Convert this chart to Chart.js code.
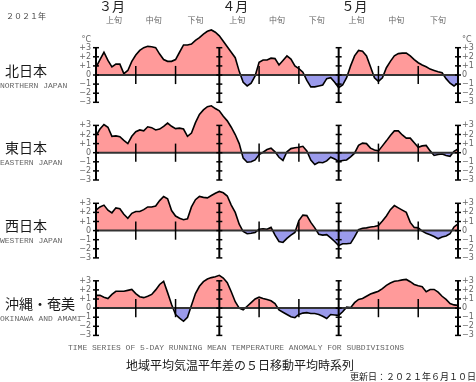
<!DOCTYPE html>
<html><head><meta charset="utf-8">
<script src="https://cdn.jsdelivr.net/npm/chart.js@4"></script>
<style>
html,body{margin:0;padding:0;background:#fff;width:476px;height:382px;overflow:hidden;}
#wrap{position:relative;width:476px;height:382px;}
canvas{position:absolute;left:0;}
.t{position:absolute;white-space:nowrap;}
.jp{font-family:"Noto Sans CJK JP",sans-serif;color:#1a1a1a;}
.en{font-family:"Liberation Mono",monospace;font-size:8px;line-height:8px;color:#666;}
</style></head><body><div id="wrap"></div>
<script>
// ---- data ----
const months = ['３月', '４月', '５月'];
const monthStart = [0, 31, 61];
const monthDays = [31, 30, 31];
const dekadLabels = ['上旬', '中旬', '下旬'];
const yTicks = [-3, -2, -1, 0, 1, 2, 3];
const yTickLabels = ['−3', '−2', '−1', '0', '+1', '+2', '+3'];
const unitLabel = '°C';
const yearLabel = '２０２１年';
const regionsJa = ['北日本', '東日本', '西日本', '沖縄・奄美'];
const regionsEn = ['NORTHERN JAPAN', 'EASTERN JAPAN', 'WESTERN JAPAN', 'OKINAWA AND AMAMI'];
const titleEn = 'TIME SERIES OF 5-DAY RUNNING MEAN TEMPERATURE ANOMALY FOR SUBDIVISIONS';
const titleJa = '地域平均気温平年差の５日移動平均時系列';
const updated = '更新日：２０２１年６月１０日';

// daily anomalies, Mar 1 .. May 31 (92 days)
const north = [0.85,1.7,2.5,1.6,0.9,1.2,1.2,0.15,0.5,1.5,2.2,2.7,3.0,3.15,3.1,3.0,2.3,1.7,1.5,1.5,1.7,2.5,3.3,3.3,3.4,3.8,4.1,4.5,4.8,4.95,4.7,
  4.3,3.7,3.1,2.5,1.9,0.4,-0.8,-1.2,-0.9,-0.1,1.4,1.65,1.65,1.85,1.8,1.1,1.6,2.1,1.75,1.0,0.7,0.3,-0.6,-1.3,-1.3,-1.2,-1.1,-0.4,-0.3,-0.8,
  -1.4,-1.1,-0.3,1.0,2.1,2.7,2.6,2.1,0.9,-0.3,-0.7,-0.3,0.8,1.5,2.1,2.35,2.4,2.4,2.1,1.7,1.35,1.1,0.9,0.65,0.5,0.35,0.25,-0.4,-0.9,-1.2,-0.9];
const east = [1.85,2.6,3.1,2.8,1.8,1.85,1.75,1.35,1.0,1.8,2.3,2.5,2.4,2.85,2.75,2.5,2.6,2.9,3.25,2.9,2.65,2.7,2.6,1.8,2.15,3.3,4.2,4.7,5.05,5.15,4.85,
  4.6,4.0,3.5,2.8,2.0,1.0,-0.6,-1.05,-1.0,-0.8,-0.2,0.05,0.35,0.5,0.1,-0.5,-0.85,0.1,0.45,0.55,0.6,0.7,0.2,-0.8,-1.3,-1.05,-1.1,-0.9,-0.5,-0.7,
  -0.95,-0.85,-0.8,-0.45,-0.05,0.8,1.05,1.0,0.5,0.3,0.2,0.75,1.3,1.9,2.4,2.4,1.95,1.6,1.6,1.1,0.6,0.75,0.8,0.2,-0.3,-0.2,-0.15,-0.3,-0.4,0.15,0.4];
const west = [2.25,2.6,2.8,2.25,1.95,2.5,2.4,1.8,1.35,1.9,2.1,2.1,2.3,2.6,2.6,2.7,3.3,3.75,3.5,2.2,1.6,1.35,1.2,1.3,2.6,3.4,3.75,3.65,3.6,3.85,4.1,
  4.3,4.15,3.8,2.8,2.0,0.7,-0.1,-0.35,-0.3,-0.2,0.15,0.2,0.15,0.35,-0.5,-1.2,-1.3,-0.85,-0.5,-0.2,1.1,1.7,1.65,0.9,0.3,-0.4,-0.5,-0.45,-0.8,-1.2,
  -1.65,-1.45,-1.45,-1.4,-0.7,0.1,0.25,0.3,0.4,0.45,0.55,1.05,1.6,2.3,2.75,2.5,2.25,2.0,0.9,0.35,0.3,-0.05,-0.3,-0.45,-0.65,-0.9,-0.7,-0.6,-0.35,0.4,0.75];
const okinawa = [1.4,1.4,1.2,1.05,1.5,1.85,1.85,1.85,1.95,2.05,1.6,1.25,1.15,1.3,1.5,2.0,2.6,2.95,1.7,0.4,-0.7,-1.1,-1.45,-1.0,0.3,1.6,2.4,2.9,3.2,3.35,3.45,
  3.6,3.3,2.8,1.8,0.7,0.0,-0.2,0.2,0.6,1.0,1.2,1.05,0.95,0.8,0.5,-0.2,-0.45,-0.7,-0.95,-1.05,-0.7,-0.55,-0.5,-0.6,-0.6,-0.7,-0.9,-1.15,-0.7,-0.75,
  -0.8,-0.4,0.1,0.05,0.6,0.95,1.05,1.3,1.55,1.7,1.85,2.15,2.5,2.75,2.95,3.0,3.1,3.15,2.9,2.6,2.45,2.35,1.8,2.05,2.05,1.75,1.3,0.95,0.5,0.35,0.3];
const series = [north, east, west, okinawa];

// ---- layout / style ----
const W = 476;
const ZERO = [75, 152.7, 230.6, 308.1];   // pixel row of the 0 line in each panel
const PX = 9.1;                          // pixels per degree
const LEFT_W = 96, RIGHT_W = 18;
const FILL_UP = '#ff9a9a', FILL_DN = '#9a9aeb';
const LAST = 90 + 1; // last day index
const tickFont = {family: 'DejaVu Sans', size: 8};
const jpSmall = {family: 'Noto Sans CJK JP', size: 8};
const jpMonth = {family: 'Noto Sans CJK JP', size: 13};
const UNIT_POS = 3.85;

const wrap = document.getElementById('wrap');
function addText(cls, txt, css) {
  const d = document.createElement('div');
  d.className = 't ' + cls; d.textContent = txt;
  Object.assign(d.style, css); wrap.appendChild(d);
}

const dekadCenters = [], dekadText = [], dekadBounds = [];
monthStart.forEach((s, m) => {
  const e = s + monthDays[m];
  [[s, s + 10], [s + 10, s + 20], [s + 20, e]].forEach((r, j) => {
    dekadCenters.push((r[0] + r[1] - 1) / 2); dekadText.push(dekadLabels[j]);
  });
  dekadBounds.push(s + 10, s + 20);
});
const monthPos = monthStart.map(s => s + 4);
const axisDays = monthStart.concat([LAST]);

function makeChart(k) {
  const isTop = k === 0;
  const z = ZERO[k];
  const top = isTop ? 0 : Math.round(z - 52);
  const areaTop = isTop ? 26 : 0;
  const h = Math.round(z + 34 - top);
  const yMax = (z - top - areaTop) / PX;
  const yMin = -((top + h) - z) / PX;
  const cv = document.createElement('canvas');
  cv.width = W; cv.height = h; cv.style.top = top + 'px';
  wrap.appendChild(cv);

  const vals = series[k];
  const datasets = [{
    data: vals.map((v, i) => ({x: i, y: v})),
    borderColor: '#000', borderWidth: 1.6, pointRadius: 0, tension: 0,
    fill: {target: 'origin', above: FILL_UP, below: FILL_DN}, order: 10, clip: false
  }, {
    data: [{x: 0, y: 0}, {x: LAST, y: 0}],
    borderColor: '#333', borderWidth: 2, pointRadius: 0, fill: false, order: 2, clip: false
  }];
  axisDays.forEach(d => datasets.push({
    data: yTicks.map(y => ({x: d, y})),
    borderColor: '#000', borderWidth: 2, pointStyle: 'line', pointRadius: 3,
    pointBorderWidth: 1.5, pointBorderColor: '#000', fill: false, order: 0, clip: false
  }));
  dekadBounds.forEach(d => datasets.push({
    data: [{x: d, y: -1}, {x: d, y: 1}],
    borderColor: '#000', borderWidth: 1.5, pointRadius: 0, fill: false, order: 0, clip: false
  }));

  const yTickVals = isTop ? yTicks.concat([UNIT_POS]) : yTicks.slice();
  const yLabel = v => v === UNIT_POS ? unitLabel : yTickLabels[yTicks.indexOf(v)];
  const yAxis = (pos, w, pad) => ({
    type: 'linear', position: pos, min: yMin, max: yMax,
    afterBuildTicks: s => { s.ticks = yTickVals.map(v => ({value: v})); },
    ticks: {callback: yLabel, font: tickFont, color: '#666', padding: pad, autoSkip: false},
    grid: {display: false, drawTicks: false}, border: {display: false},
    afterFit: s => { s.width = w; s.paddingTop = 0; s.paddingBottom = 0; }
  });
  const scales = {
    x: {
      type: 'linear', min: 0, max: LAST, position: 'top', display: isTop, weight: 0,
      afterBuildTicks: s => { s.ticks = dekadCenters.map(v => ({value: v})); },
      ticks: {callback: (v, i) => dekadText[i], font: jpSmall, color: '#666', padding: 1, autoSkip: false, maxRotation: 0},
      grid: {display: false, drawTicks: false}, border: {display: false},
      afterFit: s => { s.height = isTop ? 12 : 0; s.paddingLeft = 0; s.paddingRight = 0; }
    },
    y: yAxis('left', LEFT_W, 5),
    y2: yAxis('right', RIGHT_W, 4)
  };
  if (isTop) {
    scales.xm = {
      type: 'linear', min: 0, max: LAST, position: 'top', weight: 10,
      afterBuildTicks: s => { s.ticks = monthPos.map(v => ({value: v})); },
      ticks: {callback: (v, i) => months[i], font: jpMonth, color: '#222', padding: 0, autoSkip: false, maxRotation: 0},
      grid: {display: false, drawTicks: false}, border: {display: false},
      afterFit: s => { s.height = 14; s.paddingLeft = 0; s.paddingRight = 0; }
    };
  }
  new Chart(cv, {
    type: 'line',
    data: {datasets},
    options: {
      responsive: false, animation: false, devicePixelRatio: 1, events: [],
      layout: {padding: 0, autoPadding: false},
      plugins: {legend: {display: false}, tooltip: {enabled: false}},
      scales
    }
  });

  addText('jp', regionsJa[k], {left: '5px', top: (z - 12.5) + 'px', fontSize: '14px', lineHeight: '14px'});
  addText('en', regionsEn[k], {left: '0px', top: (z + 6.5) + 'px'});
}

[0, 1, 2, 3].forEach(makeChart);
addText('jp', yearLabel, {left: '6px', top: '12px', fontSize: '8px', lineHeight: '8px', color: '#444'});
addText('en', titleEn, {left: '68px', top: '343.5px'});
addText('jp', titleJa, {left: '126px', top: '359px', fontSize: '12px', lineHeight: '12px'});
addText('jp', updated, {right: '0px', top: '372px', fontSize: '9px', lineHeight: '9px'});
</script></body></html>
